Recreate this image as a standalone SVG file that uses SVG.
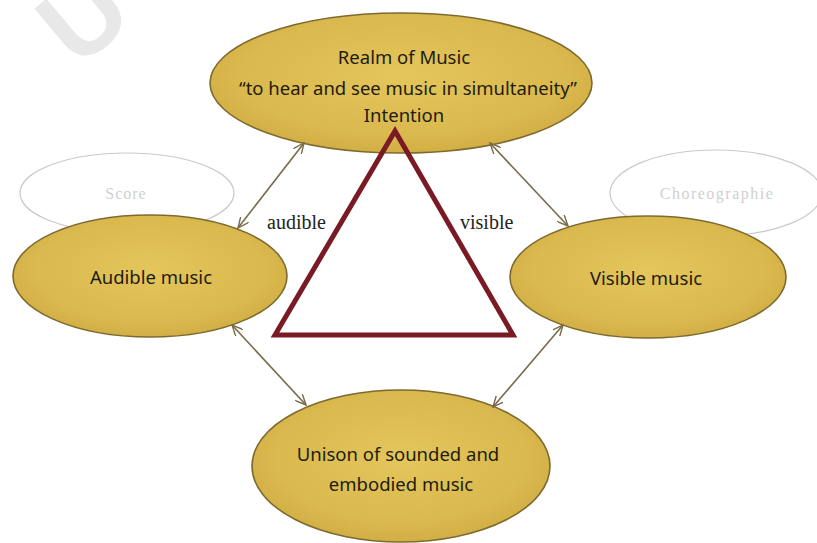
<svg xmlns="http://www.w3.org/2000/svg" width="817" height="543" viewBox="0 0 817 543">
<defs>
<radialGradient id="gold" cx="50%" cy="45%" r="60%">
<stop offset="0" stop-color="#e4c65c"/>
<stop offset="0.7" stop-color="#dab94e"/>
<stop offset="1" stop-color="#cfab40"/>
</radialGradient>
<marker id="ah" viewBox="0 0 12 10" refX="11" refY="5" markerWidth="12" markerHeight="10" markerUnits="userSpaceOnUse" orient="auto-start-reverse">
<path d="M0,0 L11,5 L0,10" fill="none" stroke="#7a6a48" stroke-width="1.4"/>
</marker>
<style>
.node{fill:url(#gold);stroke:#7d6a30;stroke-width:1.6}
.ghost{fill:#ffffff;stroke:#c9c9c9;stroke-width:1.2}
.t{font-family:"Noto Sans","Open Sans","Liberation Sans",sans-serif;font-size:18.5px;fill:#221c10;text-anchor:middle}
.g{font-family:"Liberation Serif",serif;font-size:16px;fill:#cfcfcf;text-anchor:middle}
.lbl{font-family:"Liberation Serif","DejaVu Serif",serif;font-size:20px;fill:#222222}
.con{stroke:#7a6a48;stroke-width:1.6;fill:none;marker-start:url(#ah);marker-end:url(#ah)}
</style>
</defs>
<rect width="817" height="543" fill="#ffffff"/>
<text transform="translate(108,44) rotate(-40)" x="-40" y="0" font-family="Liberation Sans,sans-serif" font-weight="bold" font-size="108" fill="#e8e8e8">U</text>

<g id="score">
<ellipse class="ghost" cx="127" cy="193" rx="107" ry="40"/>
<text class="g" x="126" y="199" letter-spacing="1">Score</text>
</g>
<g id="choreographie">
<ellipse class="ghost" cx="716" cy="193" rx="106" ry="43"/>
<text class="g" x="717" y="199" letter-spacing="1.5">Choreographie</text>
</g>

<g id="realm">
<ellipse class="node" cx="401" cy="83" rx="191" ry="70"/>
<text class="t" x="404" y="64">Realm of Music</text>
<text class="t" x="408" y="95">“to hear and see music in simultaneity”</text>
<text class="t" x="404" y="122">Intention</text>
</g>
<g id="audible">
<ellipse class="node" cx="150" cy="276" rx="137" ry="61"/>
<text class="t" x="151" y="284">Audible music</text>
</g>
<g id="visible">
<ellipse class="node" cx="648" cy="277" rx="138" ry="61"/>
<text class="t" x="646" y="285">Visible music</text>
</g>
<g id="unison">
<ellipse class="node" cx="401" cy="466" rx="149" ry="76"/>
<text class="t" x="398" y="461">Unison of sounded and</text>
<text class="t" x="401" y="491">embodied music</text>
</g>

<g id="triangle">
<polygon points="395,131 275,335 513,335" fill="none" stroke="#7a1a24" stroke-width="5" stroke-linejoin="miter"/>
</g>

<g id="connectors">
<line class="con" x1="304" y1="143" x2="238" y2="228"/>
<line class="con" x1="490" y1="143" x2="568" y2="226"/>
<line class="con" x1="232" y1="325" x2="306" y2="405"/>
<line class="con" x1="563" y1="325" x2="493" y2="407"/>
<text class="lbl" x="267" y="229">audible</text>
<text class="lbl" x="460" y="229">visible</text>
</g>
</svg>
